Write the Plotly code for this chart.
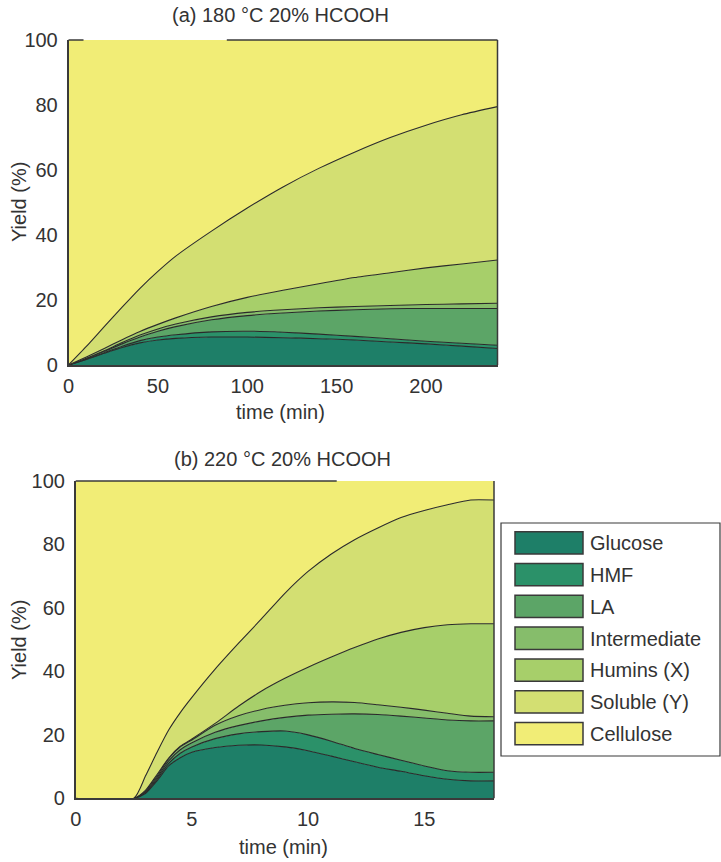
import plotly.graph_objects as go

W, H = 721, 862

species = ["Glucose", "HMF", "LA", "Intermediate", "Humins (X)", "Soluble (Y)", "Cellulose"]
colors = ["#1e7f68", "#2b9169", "#5ca567", "#86bd6b", "#a7cf6a", "#d3df72", "#f1ed76"]

# ---- panel (a): 180 °C, 20% HCOOH (yield of each species, %)
time_a = [0, 10, 20, 30, 40, 50, 60, 80, 100, 120, 140, 160, 180, 200, 220, 240]
glucose_a = [0, 1.7, 3.6, 5.4, 6.8, 7.7, 8.2, 8.6, 8.6, 8.4, 8.1, 7.7, 7.1, 6.5, 5.8, 5.1]
hmf_a = [0, 0.1, 0.2, 0.4, 0.7, 0.9, 1.1, 1.6, 1.8, 1.7, 1.4, 1.1, 1.0, 0.8, 0.9, 1.0]
la_a = [0, 0.2, 0.4, 0.7, 1.1, 1.8, 2.5, 3.7, 4.8, 5.9, 7.1, 8.2, 9.2, 10.1, 10.7, 11.3]
inter_a = [0, 0.1, 0.2, 0.4, 0.6, 0.7, 0.8, 0.9, 1.0, 1.0, 1.0, 1.0, 1.0, 1.2, 1.4, 1.6]
humins_a = [0, 0.4, 0.7, 0.9, 1.1, 1.4, 1.9, 3.2, 4.6, 6.0, 7.4, 8.9, 10.1, 11.3, 12.3, 13.3]
soluble_a = [0, 3.2, 6.7, 10.0, 13.3, 16.3, 19.0, 23.2, 27.5, 31.8, 35.5, 38.6, 41.6, 43.9, 45.9, 47.2]
cellulose_a = [100, 94.3, 88.2, 82.2, 76.4, 71.2, 66.5, 58.8, 51.7, 45.2, 39.5, 34.5, 30, 26.2, 23, 20.5]

# ---- panel (b): 220 °C, 20% HCOOH
time_b = [0, 2.5, 3, 3.5, 4, 4.5, 5, 6, 7, 8, 9, 10, 11, 12, 13, 14, 15, 16, 17, 18]
glucose_b = [0, 0, 1.5, 5.5, 10.2, 12.8, 14.5, 16, 16.7, 16.8, 16.2, 15, 13.3, 11.5, 9.8, 8.5, 7.1, 6, 5.5, 5.5]
hmf_b = [0, 0, 0.3, 0.5, 0.8, 1.4, 1.7, 2.8, 3.6, 4.2, 5.0, 5.0, 4.7, 4.2, 4.0, 3.5, 3.1, 2.7, 2.7, 2.7]
la_b = [0, 0, 0.2, 0.5, 0.8, 1.1, 1.3, 2.0, 2.6, 3.4, 4.3, 6.2, 8.5, 10.9, 12.6, 13.9, 15.1, 16.0, 16.2, 16.2]
inter_b = [0, 0, 0.2, 0.5, 0.7, 0.9, 0.9, 2.2, 3.1, 3.6, 3.8, 3.9, 3.9, 3.6, 3.1, 2.8, 2.5, 2.1, 1.5, 1.3]
humins_b = [0, 0, 0.3, 0.5, 0.2, 0.2, 0.3, 0.6, 3.0, 5.8, 8.5, 11.2, 14.1, 17.3, 20.7, 23.6, 26.0, 27.9, 29.1, 29.3]
soluble_b = [0, 0, 4.5, 7.0, 8.8, 10.6, 13.1, 17.1, 19.8, 22.8, 26.8, 30.2, 32.5, 34.0, 35.0, 36.2, 36.9, 37.8, 39.0, 39.0]
cellulose_b = [100, 100, 93, 85.5, 78.5, 73, 68.2, 59.3, 51.2, 43.4, 35.4, 28.5, 23, 18.5, 14.8, 11.5, 9.3, 7.5, 6, 6]

xticks_a = [0, 50, 100, 150, 200]
xticks_b = [0, 5, 10, 15]
yticks = [0, 20, 40, 60, 80, 100]

title_a = "(a) 180 °C 20% HCOOH"
title_b = "(b) 220 °C 20% HCOOH"
xlabel = "time (min)"
ylabel = "Yield (%)"

FONT = "Liberation Sans, Arial, sans-serif"
FS = 20
TXT = "#333333"
EDGE = "#2a2a2a"


def px(x):
    return x / W


def py(y):
    return 1 - y / H


fig = go.Figure()

series_a = [glucose_a, hmf_a, la_a, inter_a, humins_a, soluble_a, cellulose_a]
series_b = [glucose_b, hmf_b, la_b, inter_b, humins_b, soluble_b, cellulose_b]

for panel, (t, series, xa, ya) in enumerate([(time_a, series_a, "x", "y"),
                                               (time_b, series_b, "x2", "y2")]):
    for name, col, vals in zip(species, colors, series):
        fig.add_trace(go.Scatter(
            x=t, y=vals, name=name, mode="lines",
            stackgroup="g%d" % panel, fillcolor=col,
            line=dict(color=EDGE, width=0 if name == "Cellulose" else 1.1,
                      shape="spline", smoothing=0.6),
            xaxis=xa, yaxis=ya, showlegend=False, hoverinfo="skip"))

axis_common = dict(showgrid=False, zeroline=False, showline=True, linecolor="#3a3a3a",
                   linewidth=1.5, ticks="", tickfont=dict(family=FONT, size=FS, color=TXT),
                   mirror=False, automargin=False)

fig.update_layout(
    width=W, height=H, margin=dict(l=0, r=0, t=0, b=0, pad=0, autoexpand=False),
    paper_bgcolor="white", plot_bgcolor="white", showlegend=False,
    font=dict(family=FONT, size=FS, color=TXT),
    xaxis=dict(domain=[px(68.5), px(497.5)], range=[0, 240], tickvals=xticks_a,
               anchor="y", ticklabelstandoff=2, **axis_common),
    yaxis=dict(domain=[py(365), py(40)], range=[0, 100], tickvals=yticks,
               anchor="x", ticklabelstandoff=5, **axis_common),
    xaxis2=dict(domain=[px(75.7), px(494)], range=[0, 18], tickvals=xticks_b,
                anchor="y2", ticklabelstandoff=2, **axis_common),
    yaxis2=dict(domain=[py(798.3), py(481)], range=[0, 100], tickvals=yticks,
                anchor="x2", ticklabelstandoff=5, **axis_common),
)

shapes = []
# right borders and partially visible top borders of the frames
for xr, yr, segs in [("x domain", "y domain", [(0, 0.035), (0.369, 1.0)]),
                     ("x2 domain", "y2 domain", [(0, 0.624)])]:
    shapes.append(dict(type="line", xref=xr, yref=yr, x0=1, x1=1, y0=0, y1=1,
                       line=dict(color="#3a3a3a", width=1.5)))
    for a, b in segs:
        shapes.append(dict(type="line", xref=xr, yref=yr, x0=a, x1=b, y0=1, y1=1,
                           line=dict(color="#3a3a3a", width=1.5)))

# legend box
shapes.append(dict(type="rect", xref="paper", yref="paper",
                   x0=px(501), x1=px(720), y0=py(756), y1=py(523),
                   line=dict(color="#3a3a3a", width=1.2), fillcolor="white"))
annotations = []
for i, (name, col) in enumerate(zip(species, colors)):
    top = 531.7 + i * 31.8
    shapes.append(dict(type="rect", xref="paper", yref="paper",
                       x0=px(515), x1=px(583), y0=py(top + 22.3), y1=py(top),
                       line=dict(color="#3a3a3a", width=1.5), fillcolor=col))
    annotations.append(dict(text=name, xref="paper", yref="paper", x=px(588),
                            y=py(top + 11.5), xanchor="left", yanchor="middle",
                            showarrow=False, font=dict(family=FONT, size=FS, color=TXT)))

for text, x, y, ang in [(title_a, 280, 15, 0), (title_b, 282, 459, 0),
                        (xlabel, 280, 412, 0), (xlabel, 283, 847, 0),
                        (ylabel, 19, 202, -90), (ylabel, 19, 640, -90)]:
    annotations.append(dict(text=text, xref="paper", yref="paper", x=px(x), y=py(y),
                            xanchor="center", yanchor="middle", textangle=ang,
                            showarrow=False, font=dict(family=FONT, size=FS, color=TXT)))

fig.update_layout(shapes=shapes, annotations=annotations)
fig.write_html("out.html")
